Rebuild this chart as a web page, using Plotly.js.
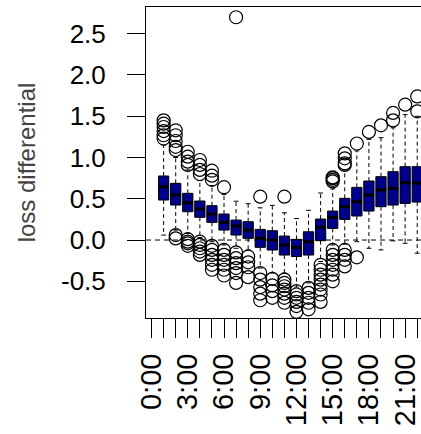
<!DOCTYPE html>
<html>
<head>
<meta charset="utf-8">
<script src="https://cdn.plot.ly/plotly-3.0.1.min.js"></script>
<style>
  html, body { margin: 0; padding: 0; background: #fff; overflow: hidden; }
  #chart { width: 480px; height: 434px; }
</style>
</head>
<body>
<div id="chart"></div>
<script>
// ---- data ----
const tickPos = [0,1,2,3,4,5,6,7,8,9,10,11,12,13,14,15,16,17,18,19,20,21,22,23];
const tickLabels = ["0:00","","","3:00","","","6:00","","","9:00","","","12:00","","","15:00","","","18:00","","","21:00","",""];
const boxPos = [1,2,3,4,5,6,7,8,9,10,11,12,13,14,15,16,17,18,19,20,21,22,23,24];
const q3     = [0.776,0.687,0.566,0.473,0.416,0.315,0.242,0.222,0.129,0.113,0.048,0.008,0.100,0.254,0.351,0.505,0.638,0.715,0.768,0.828,0.889,0.889,0.880,0.860];
const median = [0.646,0.545,0.452,0.376,0.315,0.214,0.170,0.121,0.020,0.000,-0.060,-0.089,-0.020,0.154,0.275,0.404,0.465,0.545,0.606,0.626,0.695,0.690,0.680,0.660];
const q1     = [0.485,0.424,0.343,0.275,0.214,0.121,0.060,0.020,-0.089,-0.121,-0.182,-0.200,-0.182,-0.008,0.141,0.250,0.291,0.351,0.404,0.424,0.444,0.460,0.460,0.470];
const whiskerHigh = [1.15,1.00,0.85,0.72,0.66,0.55,0.47,0.44,0.39,0.42,0.33,0.26,0.36,0.57,0.62,0.85,1.08,1.22,1.24,1.36,1.52,1.50,1.45,1.40];
const whiskerLow  = [0.06,0.12,0.08,0.03,-0.02,-0.06,-0.10,-0.12,-0.34,-0.40,-0.40,-0.57,-0.52,-0.26,-0.06,-0.05,-0.02,-0.10,-0.12,-0.01,-0.04,-0.16,-0.15,-0.10];
const outliers = [
  [1.45,1.41,1.37,1.32,1.27,1.23],
  [1.33,1.27,1.20,1.13,1.09,0.06,0.02],
  [1.07,1.01,0.95,0.91,0.01,-0.02,-0.04,-0.07],
  [0.97,0.91,0.85,0.80,-0.02,-0.06,-0.10,-0.14,-0.18],
  [0.84,0.78,0.73,-0.07,-0.12,-0.18,-0.24,-0.30,-0.36],
  [0.64,-0.12,-0.18,-0.24,-0.30,-0.36,-0.43],
  [2.70,-0.15,-0.22,-0.28,-0.34,-0.40,-0.52],
  [-0.20,-0.27,-0.33,-0.45],
  [0.525,-0.40,-0.48,-0.57,-0.65,-0.73],
  [-0.47,-0.55,-0.62,-0.70],
  [0.525,-0.48,-0.52,-0.56,-0.60,-0.65,-0.70,-0.76],
  [-0.62,-0.66,-0.70,-0.75,-0.80,-0.87],
  [-0.58,-0.64,-0.70,-0.76,-0.84],
  [-0.30,-0.36,-0.42,-0.48,-0.54,-0.60,-0.66,-0.75],
  [0.71,0.73,0.75,0.76,-0.12,-0.18,-0.24,-0.30,-0.36,-0.42,-0.50],
  [1.05,0.99,0.93,0.91,-0.12,-0.18,-0.24,-0.32],
  [1.17,-0.21],
  [1.31],
  [1.39],
  [1.54,1.45],
  [1.64],
  [1.74,1.56],
  [1.80],
  []
];
const yTickVals = [-0.5,0,0.5,1,1.5,2,2.5];
const yTickText = ["-0.5","0.0","0.5","1.0","1.5","2.0","2.5"];

// ---- build traces ----
const boxW = 0.85, stapleHalf = 0.2;
const wx = [], wy = [], sx = [], sy = [], mx = [], my = [], ox = [], oy = [];
boxPos.forEach((p, i) => {
  wx.push(p, p, null, p, p, null);
  wy.push(q3[i], whiskerHigh[i], null, q1[i], whiskerLow[i], null);
  sx.push(p - stapleHalf, p + stapleHalf, null, p - stapleHalf, p + stapleHalf, null);
  sy.push(whiskerHigh[i], whiskerHigh[i], null, whiskerLow[i], whiskerLow[i], null);
  mx.push(p - boxW / 2, p + boxW / 2, null);
  my.push(median[i], median[i], null);
  outliers[i].forEach(v => { ox.push(p); oy.push(v); });
});

const traces = [
  { type: 'scatter', mode: 'lines', x: wx, y: wy, hoverinfo: 'skip',
    line: { color: '#000', width: 1, dash: '4px,3px' }, showlegend: false },
  { type: 'scatter', mode: 'lines', x: sx, y: sy, hoverinfo: 'skip',
    line: { color: '#000', width: 1 }, showlegend: false },
  { type: 'box', x: boxPos, q1: q1, median: median, q3: q3,
    lowerfence: q1, upperfence: q3, width: boxW, whiskerwidth: 0,
    fillcolor: '#00008B', line: { color: '#000', width: 1 },
    boxpoints: false, hoverinfo: 'skip', showlegend: false },
  { type: 'scatter', mode: 'lines', x: mx, y: my, hoverinfo: 'skip',
    line: { color: '#000', width: 3 }, showlegend: false },
  { type: 'scatter', mode: 'markers', x: ox, y: oy, hoverinfo: 'skip',
    marker: { symbol: 'circle-open', size: 13, color: '#000', line: { width: 1.2, color: '#000' } },
    showlegend: false }
];

const layout = {
  width: 480, height: 434,
  margin: { l: 146, r: 21, t: 7, b: 116 },
  paper_bgcolor: '#fff', plot_bgcolor: '#fff',
  font: { family: 'Liberation Sans, Arial, sans-serif', color: '#000' },
  showlegend: false,
  xaxis: {
    range: [-0.46, 25.46], tickmode: 'array', tickvals: tickPos, ticktext: tickLabels,
    tickangle: -90, ticks: 'outside', ticklen: 19, tickwidth: 1, tickcolor: '#000',
    ticklabelstandoff: 4,
    tickfont: { size: 29, color: '#000' },
    showgrid: false, zeroline: false, showline: true, mirror: true, linecolor: '#000', linewidth: 1
  },
  yaxis: {
    range: [-0.945, 2.824], tickmode: 'array', tickvals: yTickVals, ticktext: yTickText,
    ticks: 'outside', ticklen: 18, tickwidth: 1, tickcolor: '#000',
    ticklabelstandoff: 16,
    tickfont: { size: 26, color: '#000' },
    title: { text: 'loss differential', font: { size: 24, color: '#444' }, standoff: 18 },
    showgrid: false, zeroline: false, showline: true, mirror: true, linecolor: '#000', linewidth: 1
  },
  shapes: [
    { type: 'line', xref: 'paper', x0: 0, x1: 1, yref: 'y', y0: 0, y1: 0, layer: 'below',
      line: { color: '#000', width: 1, dash: '5px,4px' } }
  ]
};

Plotly.newPlot('chart', traces, layout, { staticPlot: true, displayModeBar: false });
</script>
</body>
</html>
